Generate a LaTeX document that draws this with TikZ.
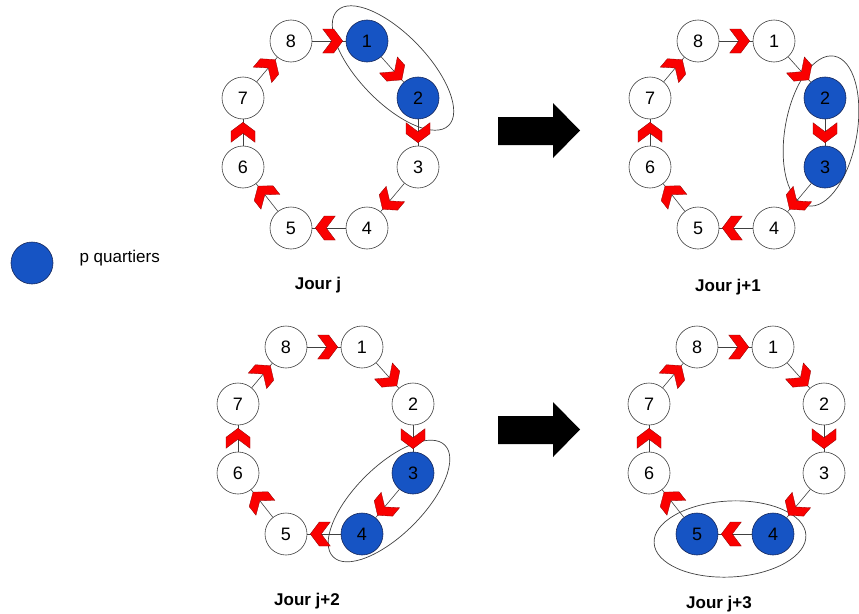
\documentclass[tikz,border=0pt]{standalone}
\usepackage{fontspec}
\setmainfont{Liberation Sans}
\usetikzlibrary{decorations.markings}
\definecolor{qblue}{RGB}{22,84,196}
\definecolor{qnavy}{RGB}{22,40,92}
\definecolor{chevred}{RGB}{250,0,0}

\tikzset{
 quartier/.style={circle, draw=black!75, line width=0.6pt, inner sep=0pt, minimum size=42pt, font=\fontsize{18}{20}\selectfont},
 chevron/.style={fill=chevred, draw=red!55!black, line width=0.3pt},
 link/.style={draw=black!75, line width=0.6pt, postaction={decorate},
  decoration={markings, mark=at position -3pt with {\path[chevron] (0pt,0pt) -- (-9pt,12pt) -- (-20pt,12pt) -- (-11pt,0pt) -- (-20pt,-12pt) -- (-9pt,-12pt) -- cycle;}}},
 groupe/.style={draw=black!75, line width=0.7pt},
 jour/.style={font=\bfseries\fontsize{17}{20}\selectfont, anchor=base},
}

% one ring of 8 quartiers; #1 prefix, #2 shift, #3 #4 the blue ones
\newcommand{\ronde}[4]{%
 \begin{scope}[shift={#2}]
  \foreach \n/\px/\py in {8/0/0,1/76/0,2/127/57,3/127/126,4/76/187,5/0/187,6/-48/126,7/-48/57}{
   \ifnum\n=#3 \def\fc{qblue}\def\dc{qnavy}\else\ifnum\n=#4 \def\fc{qblue}\def\dc{qnavy}\else\def\fc{white}\def\dc{black!75}\fi\fi
   \node[quartier, fill=\fc, draw=\dc] (#1\n) at (\px,\py) {\n};
  }
 \end{scope}
 \foreach \s/\t in {8/1,1/2,2/3,3/4,4/5,5/6,6/7,7/8}
  \draw[link] (#1\s) -- (#1\t);
}

\begin{document}
\begin{tikzpicture}[x=1pt,y=-1pt]
 \useasboundingbox (0,0) rectangle (859,613);
 % groups of p quartiers
 \draw[groupe, rotate around={-46:(393,68)}] (393,68) ellipse [x radius=80pt, y radius=34pt];
 \draw[groupe, rotate around={-10:(821,131)}] (821,131) ellipse [x radius=36pt, y radius=76pt];
 \draw[groupe, rotate around={45:(389,501)}] (389,501) ellipse [x radius=79pt, y radius=34pt];
 \draw[groupe, rotate around={3:(730,539)}] (730,539) ellipse [x radius=76pt, y radius=38pt];

 \ronde{a}{(291,41)}{1}{2}
 \ronde{b}{(698,41)}{2}{3}
 \ronde{c}{(286,347)}{3}{4}
 \ronde{d}{(697,347)}{4}{5}

 \node[jour] (ja) at (318,289) {Jour j};
 \node[jour] (jb) at (728,291) {Jour j+1};
 \node[jour] (jc) at (307,605) {Jour j+2};
 \node[jour] (jd) at (719,608) {Jour j+3};

 % big arrows between days
 \foreach \dy in {0,299}
  \fill[black] (498,117+\dy) -- (553,117+\dy) -- (553,103+\dy) -- (580,130.5+\dy) -- (553,158+\dy) -- (553,145+\dy) -- (498,145+\dy) -- cycle;

 % legend
 \node[quartier, fill=qblue, draw=qnavy] (legende) at (32,263) {};
 \node[anchor=west, font=\fontsize{17}{20}\selectfont] (legtxt) at (76,258) {p quartiers};
\end{tikzpicture}
\end{document}
